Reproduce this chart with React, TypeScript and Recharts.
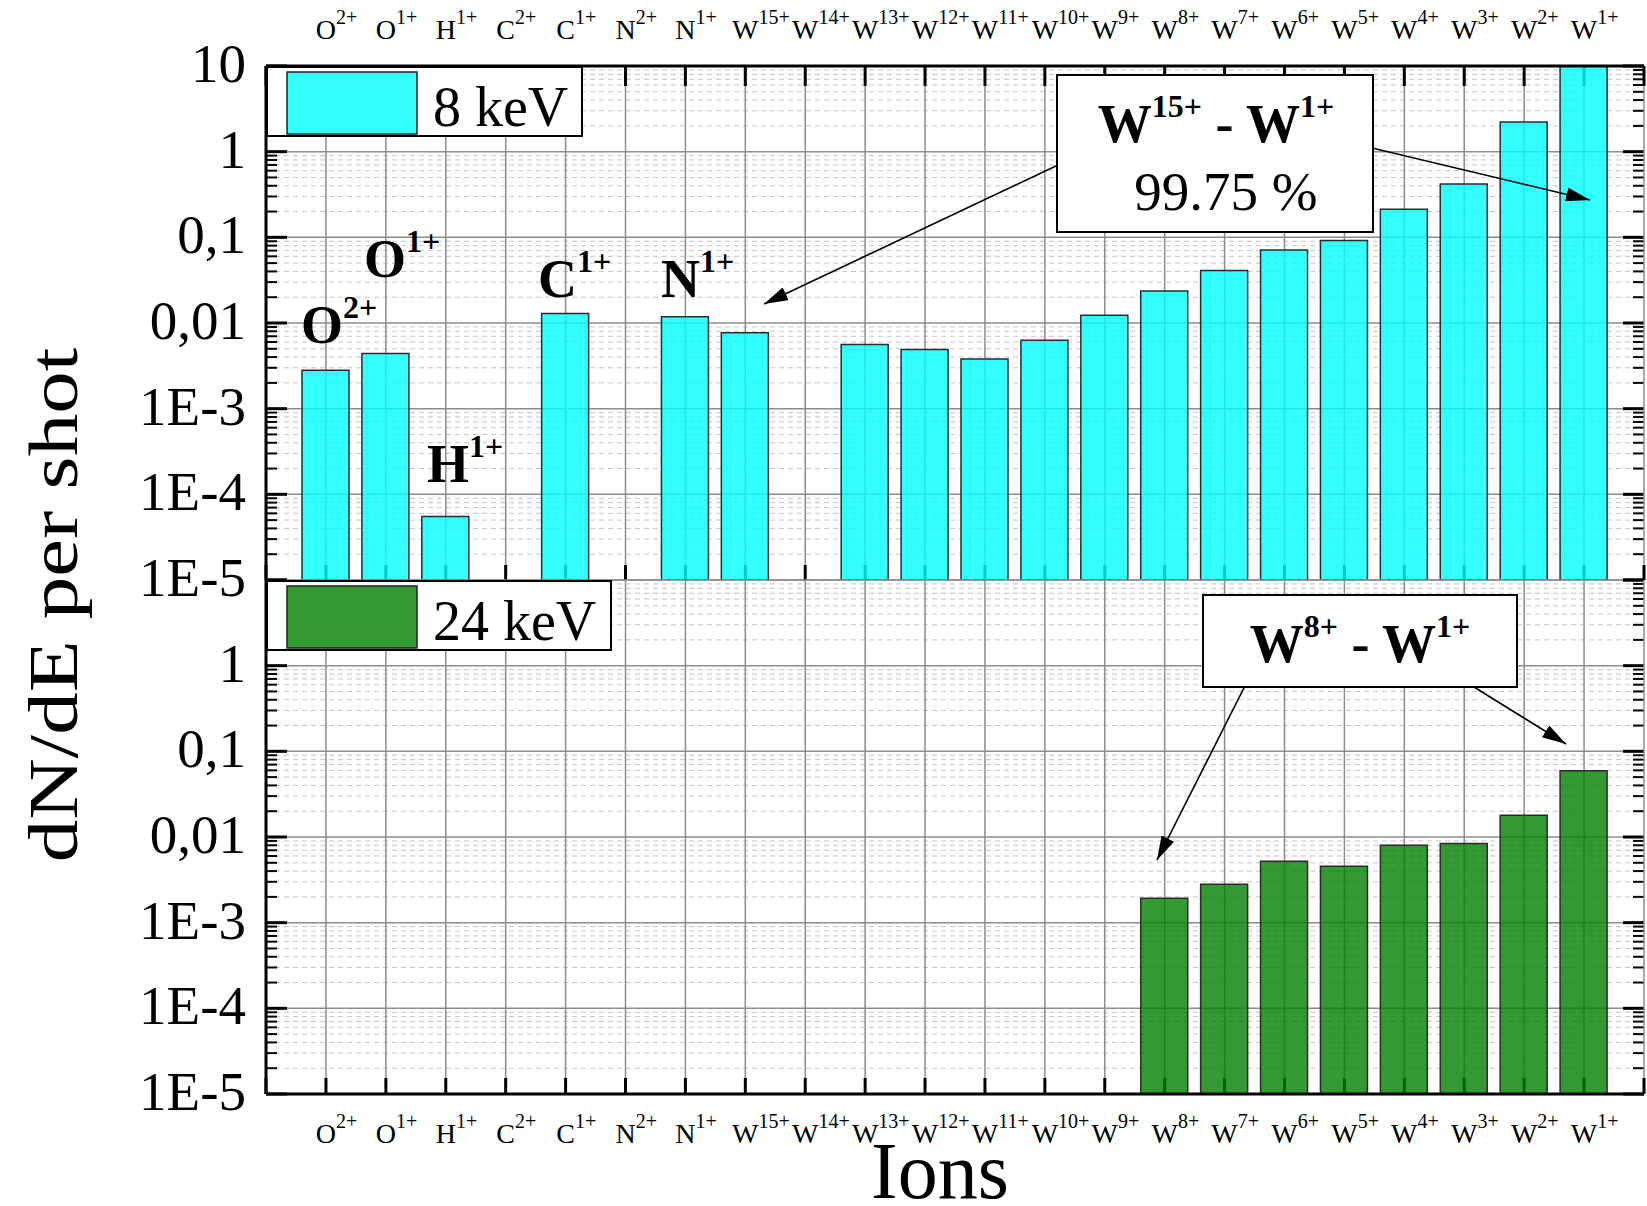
import React from 'react';
import { BarChart, Bar, XAxis, YAxis, CartesianGrid, Legend } from 'recharts';

// ---------- data ----------
const ionBase = ['O', 'O', 'H', 'C', 'C', 'N', 'N', 'W', 'W', 'W', 'W', 'W', 'W', 'W', 'W', 'W', 'W', 'W', 'W', 'W', 'W', 'W'];
const ionCharge = ['2+', '1+', '1+', '2+', '1+', '2+', '1+', '15+', '14+', '13+', '12+', '11+', '10+', '9+', '8+', '7+', '6+', '5+', '4+', '3+', '2+', '1+'];
const keV8: (number | null)[] = [2.8e-3, 4.4e-3, 5.5e-5, null, 0.0129, null, 0.0118, 7.7e-3, null, 5.6e-3, 4.9e-3, 3.8e-3, 6.3e-3, 0.0123, 0.0236, 0.041, 0.071, 0.092, 0.213, 0.42, 2.22, 10];
const keV24: (number | null)[] = [null, null, null, null, null, null, null, null, null, null, null, null, null, null, 1.93e-3, 2.8e-3, 5.2e-3, 4.55e-3, 8.0e-3, 8.4e-3, 0.0179, 0.0593];
const decadeTicks = [1e-5, 1e-4, 1e-3, 0.01, 0.1, 1, 10];
const decadeLabels = ['1E-5', '1E-4', '1E-3', '0,01', '0,1', '1', '10'];
const minorMultipliers = [2, 3, 4, 5, 6, 7, 8, 9];
const decadeExponents = [-5, -4, -3, -2, -1, 0];
const minorTicks = decadeExponents.flatMap((e) => minorMultipliers.map((m) => m * Math.pow(10, e)));

const data = ionBase.map((b, i) => ({
  name: b + ionCharge[i],
  base: b,
  charge: ionCharge[i],
  keV8: keV8[i],
  keV24: keV24[i],
}));

// ---------- layout / style ----------
const W = 1647;
const H = 1206;
const FONT = '"Liberation Serif", "Times New Roman", Times, serif';
const MID = 580;
const GRID = '#8c8c8c';
const MINOR = '#c4c4c4';
const baseW: Record<string, number> = { O: 0.722, H: 0.722, C: 0.667, N: 0.722, W: 0.944 };

function IonTick(props: any) {
  const { x, payload, baseline } = props;
  const d = data.find((r) => r.name === payload.value);
  if (!d) return null;
  const fs = 28;
  const x0 = x - (baseW[d.base] * fs) / 2;
  return (
    <text x={x0} y={baseline} fontFamily={FONT} fontSize={fs} fill="#000" textAnchor="start">
      <tspan>{d.base}</tspan>
      <tspan fontSize={20} dy={-15}>{d.charge}</tspan>
    </text>
  );
}

function YTick(props: any) {
  const { y, payload, hideTop } = props;
  const v = payload.value;
  const idx = decadeTicks.findIndex((t) => Math.abs(Math.log10(t) - Math.log10(v)) < 1e-6);
  if (idx < 0) return null;
  if (hideTop && v >= 10) return null;
  return (
    <text x={246} y={y} dy={16} textAnchor="end" fontSize={55} fontFamily={FONT} fill="#000">
      {decadeLabels[idx]}
    </text>
  );
}

const majorH = (p: any) => (
  <g key={`mh-${p.index}-${p.y1}`}>
    <line x1={p.x1} y1={p.y1} x2={p.x2} y2={p.y2} stroke={GRID} strokeWidth={1.5} />
    <line x1={p.x1} y1={p.y1} x2={p.x1 + 21} y2={p.y1} stroke="#000" strokeWidth={3} />
    <line x1={p.x2 - 21} y1={p.y1} x2={p.x2} y2={p.y1} stroke="#000" strokeWidth={3} />
  </g>
);

const minorH = (p: any) => (
  <g key={`nh-${p.index}-${p.y1}`}>
    <line x1={p.x1} y1={p.y1} x2={p.x2} y2={p.y2} stroke={MINOR} strokeWidth={1} strokeDasharray="5 4" />
    <line x1={p.x1} y1={p.y1} x2={p.x1 + 11} y2={p.y1} stroke="#000" strokeWidth={2} />
    <line x1={p.x2 - 11} y1={p.y1} x2={p.x2} y2={p.y1} stroke="#000" strokeWidth={2} />
  </g>
);

const makeV = (topStub: number, botStub: number) => (p: any) => (
  <g key={`v-${p.index}-${p.x1}`}>
    <line x1={p.x1} y1={p.y1} x2={p.x2} y2={p.y2} stroke={GRID} strokeWidth={1.5} />
    {topStub > 0 && <line x1={p.x1} y1={p.y1} x2={p.x1} y2={p.y1 + topStub} stroke="#000" strokeWidth={3} />}
    {botStub > 0 && <line x1={p.x1} y1={p.y2 - botStub} x2={p.x1} y2={p.y2} stroke="#000" strokeWidth={3} />}
  </g>
);

function LegendBox(props: any) {
  const { payload, boxW } = props;
  const item = payload && payload[0];
  if (!item) return null;
  return (
    <svg width={boxW} height={71} style={{ display: 'block' }}>
      <rect x={1} y={1} width={boxW - 2} height={69} fill="#fff" stroke="#000" strokeWidth={2} />
      <rect x={21} y={6} width={130} height={62} fill={item.color} fillOpacity={0.8} stroke="#222" strokeWidth={1.5} />
      <text x={167} y={60} fontSize={56} fontFamily={FONT} fill="#000">
        {item.value}
      </text>
    </svg>
  );
}

const frame = { stroke: '#000', strokeWidth: 3 };
const xPad = { left: 30, right: 30 };

function TopPanel() {
  return (
    <BarChart width={W} height={H} data={data} margin={{ top: 0, right: 3, bottom: H - MID, left: 0 }}>
      <XAxis
        dataKey="name"
        type="category"
        orientation="top"
        height={66}
        padding={xPad}
        interval={0}
        tickLine={false}
        axisLine={frame}
        tick={(p: any) => <IonTick {...p} baseline={39} />}
      />
      <XAxis xAxisId="b" dataKey="name" type="category" orientation="bottom" height={0} padding={xPad} tick={false} tickLine={false} axisLine={frame} />
      <YAxis
        type="number"
        scale="log"
        domain={[1e-5, 10]}
        ticks={decadeTicks}
        interval={0}
        allowDataOverflow
        width={266}
        tickLine={false}
        tickSize={0}
        axisLine={frame}
        tick={(p: any) => <YTick {...p} />}
      />
      <YAxis yAxisId="minor" type="number" scale="log" domain={[1e-5, 10]} ticks={minorTicks} interval={0} allowDataOverflow hide />
      <YAxis yAxisId="r" orientation="right" type="number" scale="log" domain={[1e-5, 10]} allowDataOverflow width={0} tick={false} tickLine={false} axisLine={frame} />
      <CartesianGrid yAxisId="minor" vertical={false} horizontal={minorH} />
      <CartesianGrid horizontal={majorH} vertical={makeV(20, 15)} />
      <Legend
        layout="vertical"
        verticalAlign="middle"
        align="center"
        wrapperStyle={{ position: 'absolute', left: 266, top: 66, width: 317, height: 71 }}
        content={(p: any) => <LegendBox {...p} boxW={317} />}
      />
      <Bar dataKey="keV8" name="8 keV" fill="#00ffff" fillOpacity={0.8} stroke="#2b2b2b" strokeWidth={1.5} barSize={47} isAnimationActive={false} />
    </BarChart>
  );
}

function BottomPanel() {
  return (
    <BarChart width={W} height={H} data={data} margin={{ top: MID, right: 3, bottom: 0, left: 0 }}>
      <XAxis
        dataKey="name"
        type="category"
        orientation="bottom"
        height={112}
        padding={xPad}
        interval={0}
        tickLine={false}
        axisLine={frame}
        tick={(p: any) => <IonTick {...p} baseline={1143} />}
      />
      <YAxis
        type="number"
        scale="log"
        domain={[1e-5, 10]}
        ticks={decadeTicks}
        interval={0}
        allowDataOverflow
        width={266}
        tickLine={false}
        tickSize={0}
        axisLine={frame}
        tick={(p: any) => <YTick {...p} hideTop />}
      />
      <YAxis yAxisId="minor" type="number" scale="log" domain={[1e-5, 10]} ticks={minorTicks} interval={0} allowDataOverflow hide />
      <YAxis yAxisId="r" orientation="right" type="number" scale="log" domain={[1e-5, 10]} allowDataOverflow width={0} tick={false} tickLine={false} axisLine={frame} />
      <CartesianGrid yAxisId="minor" vertical={false} horizontal={minorH} />
      <CartesianGrid horizontal={majorH} vertical={makeV(0, 16)} />
      <Legend
        layout="vertical"
        verticalAlign="middle"
        align="center"
        wrapperStyle={{ position: 'absolute', left: 266, top: MID, width: 346, height: 71 }}
        content={(p: any) => <LegendBox {...p} boxW={346} />}
      />
      <Bar dataKey="keV24" name="24 keV" fill="#008000" fillOpacity={0.8} stroke="#2b2b2b" strokeWidth={1.5} barSize={47} isAnimationActive={false} />
    </BarChart>
  );
}

function Sup({ base, sup, x, y }: any) {
  return (
    <text x={x} y={y} fontFamily={FONT} fontWeight="bold" fontSize={54} textAnchor="start" fill="#000">
      <tspan>{base}</tspan>
      <tspan fontSize={32} dy={-25}>{sup}</tspan>
    </text>
  );
}

function Overlay() {
  return (
    <svg width={W} height={H} style={{ position: 'absolute', left: 0, top: 0, pointerEvents: 'none' }}>
      <defs>
        <marker id="ah" markerUnits="userSpaceOnUse" markerWidth={26} markerHeight={14} refX={24} refY={7} orient="auto">
          <path d="M0,0 L24,7 L0,14 z" fill="#000" />
        </marker>
      </defs>
      {/* bar labels */}
      <Sup base="O" sup="2+" x={301} y={343} />
      <Sup base="O" sup="1+" x={364} y={277} />
      <Sup base="H" sup="1+" x={427} y={482} />
      <Sup base="C" sup="1+" x={538} y={297} />
      <Sup base="N" sup="1+" x={661} y={297} />

      {/* top annotation */}
      <line x1={1092} y1={149} x2={764} y2={304} stroke="#000" strokeWidth={1.6} markerEnd="url(#ah)" />
      <line x1={1326} y1={137} x2={1590} y2={200} stroke="#000" strokeWidth={1.6} markerEnd="url(#ah)" />
      <rect x={1057} y={75} width={316} height={157} fill="#fff" stroke="#000" strokeWidth={2} />
      <text x={1216} y={142} fontFamily={FONT} fontWeight="bold" fontSize={54} textAnchor="middle" fill="#000">
        <tspan>W</tspan>
        <tspan fontSize={32} dy={-25}>15+</tspan>
        <tspan dy={25}> - W</tspan>
        <tspan fontSize={32} dy={-25}>1+</tspan>
      </text>
      <text x={1226} y={210} fontFamily={FONT} fontSize={55} textAnchor="middle" fill="#000">
        99.75 %
      </text>

      {/* bottom annotation */}
      <line x1={1252} y1={672} x2={1157} y2={860} stroke="#000" strokeWidth={1.6} markerEnd="url(#ah)" />
      <line x1={1440} y1={666} x2={1566} y2={744} stroke="#000" strokeWidth={1.6} markerEnd="url(#ah)" />
      <rect x={1203} y={595} width={314} height={92} fill="#fff" stroke="#000" strokeWidth={2} />
      <text x={1360} y={662} fontFamily={FONT} fontWeight="bold" fontSize={54} textAnchor="middle" fill="#000">
        <tspan>W</tspan>
        <tspan fontSize={32} dy={-25}>8+</tspan>
        <tspan dy={25}> - W</tspan>
        <tspan fontSize={32} dy={-25}>1+</tspan>
      </text>

      {/* axis titles */}
      <text
        x={0}
        y={0}
        transform="translate(77, 605) rotate(-90) scale(1, 0.82)"
        fontFamily={FONT}
        fontSize={85}
        textAnchor="middle"
        fill="#000"
      >
        dN/dE per shot
      </text>
      <text x={940} y={1198} fontFamily={FONT} fontSize={80} textAnchor="middle" fill="#000">
        Ions
      </text>
    </svg>
  );
}

export default function App() {
  return (
    <div style={{ position: 'absolute', left: 0, top: 0, width: W, height: H, background: '#fff', overflow: 'hidden' }}>
      <div style={{ position: 'absolute', left: 0, top: 0 }}>
        <TopPanel />
      </div>
      <div style={{ position: 'absolute', left: 0, top: 0 }}>
        <BottomPanel />
      </div>
      <Overlay />
    </div>
  );
}
